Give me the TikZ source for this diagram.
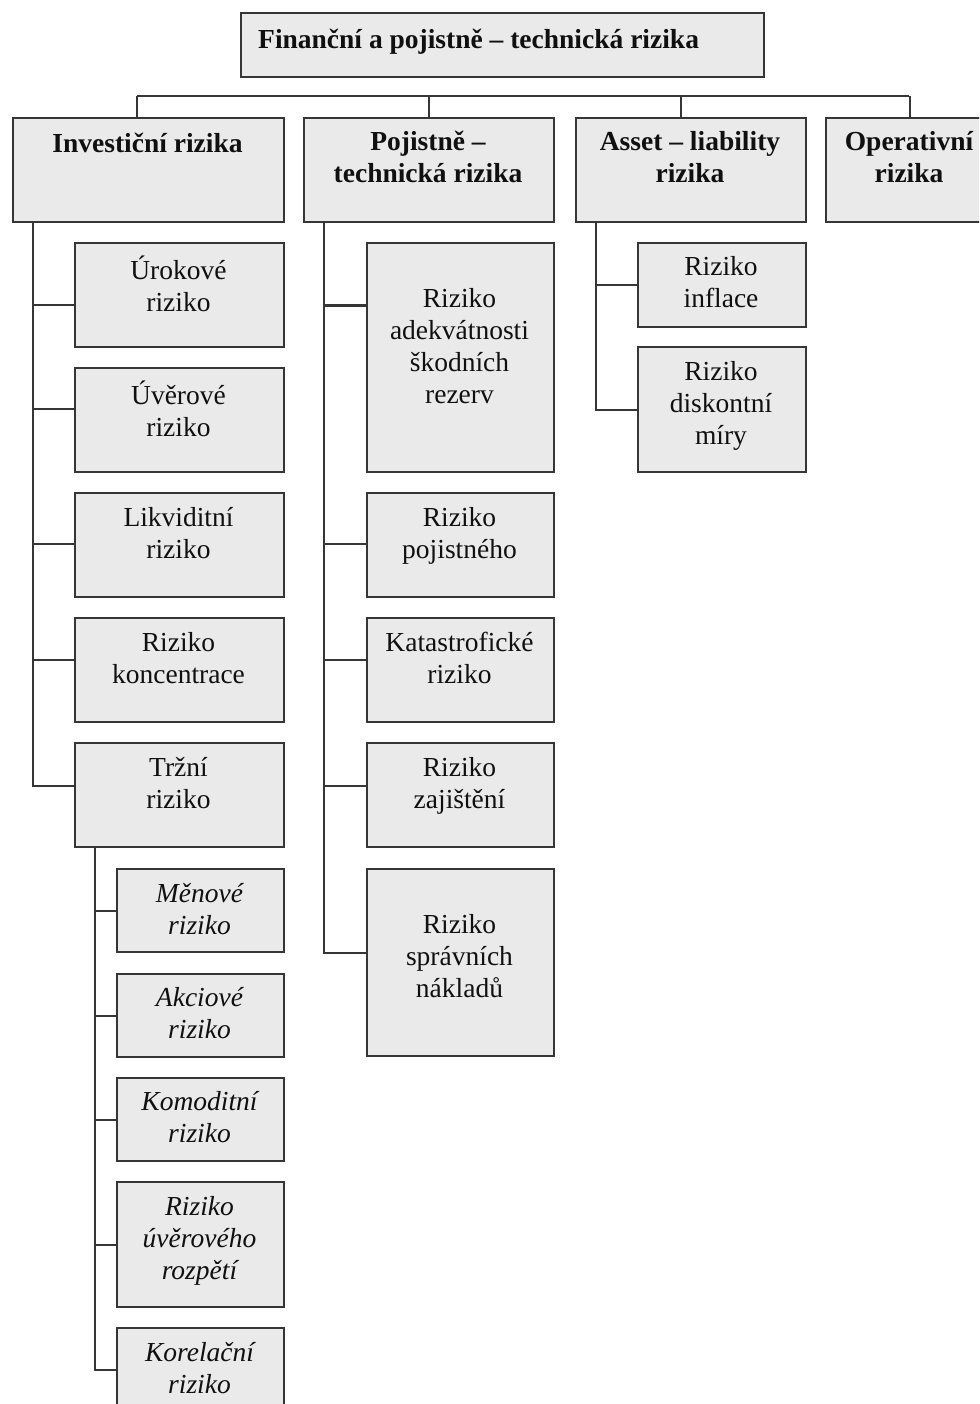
\documentclass[tikz,border=0pt]{standalone}
\usepackage{fontspec}
\setmainfont{Liberation Serif}
\definecolor{boxfill}{HTML}{EAEAEA}
\definecolor{boxline}{HTML}{363636}
\definecolor{ink}{HTML}{101010}
\tikzset{
  rbox/.style={draw=boxline, fill=boxfill, line width=2.2pt, inner sep=0pt, anchor=north west},
  link/.style={draw=boxline, line width=2.2pt},
  lbl/.style={text=ink, align=center, inner sep=0pt, yshift=-3pt,
    font=\fontsize{27.5}{32}\selectfont,
    execute at begin node=\strut, execute at end node=\strut},
  head/.style={lbl, font=\bfseries\fontsize{27.5}{32}\selectfont},
  sub/.style={lbl, font=\itshape\fontsize{27.5}{32}\selectfont}
}
\begin{document}
\begin{tikzpicture}[x=1pt,y=-1pt]
\useasboundingbox (0,0) rectangle (979,1404);
\clip (0,0) rectangle (979,1404);

% ---- boxes ----
\node[rbox, minimum width=523pt, minimum height=64pt]  (top) at (240,12) {};
\node[rbox, minimum width=271pt, minimum height=104pt] (inv) at (12,117) {};
\node[rbox, minimum width=250pt, minimum height=104pt] (poj) at (303,117) {};
\node[rbox, minimum width=230pt, minimum height=104pt] (alm) at (575,117) {};
\node[rbox, minimum width=168pt, minimum height=104pt] (ope) at (825,117) {};

\node[rbox, minimum width=209pt, minimum height=104pt] (u1) at (74,242) {};
\node[rbox, minimum width=209pt, minimum height=104pt] (u2) at (74,367) {};
\node[rbox, minimum width=209pt, minimum height=104pt] (u3) at (74,492) {};
\node[rbox, minimum width=209pt, minimum height=104pt] (u4) at (74,617) {};
\node[rbox, minimum width=209pt, minimum height=104pt] (u5) at (74,742) {};

\node[rbox, minimum width=167pt, minimum height=83pt]  (t1) at (116,868) {};
\node[rbox, minimum width=167pt, minimum height=83pt]  (t2) at (116,973) {};
\node[rbox, minimum width=167pt, minimum height=83pt]  (t3) at (116,1077) {};
\node[rbox, minimum width=167pt, minimum height=125pt] (t4) at (116,1181) {};
\node[rbox, minimum width=167pt, minimum height=83pt]  (t5) at (116,1327) {};

\node[rbox, minimum width=187pt, minimum height=229pt] (p1) at (366,242) {};
\node[rbox, minimum width=187pt, minimum height=104pt] (p2) at (366,492) {};
\node[rbox, minimum width=187pt, minimum height=104pt] (p3) at (366,617) {};
\node[rbox, minimum width=187pt, minimum height=104pt] (p4) at (366,742) {};
\node[rbox, minimum width=187pt, minimum height=187pt] (p5) at (366,868) {};

\node[rbox, minimum width=168pt, minimum height=84pt]  (a1) at (637,242) {};
\node[rbox, minimum width=168pt, minimum height=125pt] (a2) at (637,346) {};

% ---- bus between the first and second level ----
\coordinate (bus-w) at (137,96);
\coordinate (bus-e) at (909,96);
\draw[link] (bus-w) -- (bus-e);
\draw[link] (bus-w) -- (bus-w |- inv.north);
\draw[link] (poj.north) -- (poj.north |- bus-w);
\draw[link] ([xshift=-10pt]alm.north) -- ([xshift=-10pt]alm.north |- bus-w);
\draw[link] (ope.north) -- (ope.north |- bus-w);

% ---- trunks ----
\coordinate (inv-tr) at ([xshift=21pt]inv.south west);
\coordinate (poj-tr) at ([xshift=21pt]poj.south west);
\coordinate (alm-tr) at ([xshift=21pt]alm.south west);
\coordinate (trz-tr) at ([xshift=21pt]u5.south west);

\coordinate (u1c) at ([yshift=-10pt]u1.west);
\coordinate (u2c) at ([yshift=11pt]u2.west);
\coordinate (u3c) at ([yshift=1pt]u3.west);
\coordinate (u4c) at ([yshift=10pt]u4.west);
\coordinate (u5c) at ([yshift=9pt]u5.west);
\draw[link] (inv-tr) |- (u5c);
\foreach \c in {u1c,u2c,u3c,u4c} \draw[link] (\c) -- (\c -| inv-tr);

\coordinate (p1c) at ([yshift=52pt]p1.west);
\coordinate (p2c) at ([yshift=1pt]p2.west);
\coordinate (p3c) at ([yshift=10pt]p3.west);
\coordinate (p4c) at ([yshift=9pt]p4.west);
\coordinate (p5c) at ([yshift=10pt]p5.west);
\draw[link] (poj-tr) |- (p5c);
\foreach \c in {p1c,p2c,p3c,p4c} \draw[link] (\c) -- (\c -| poj-tr);

\draw[link] (alm-tr) |- (a2.west);
\draw[link] (a1.west) -- (a1.west -| alm-tr);

\draw[link] (trz-tr) |- (t5.west);
\foreach \c in {t1,t2,t3,t4} \draw[link] (\c.west) -- (\c.west -| trz-tr);

% ---- texts ----
\node[head, anchor=west, yshift=3pt] (top-t) at (258,42) {Finanční a pojistně – technická rizika};
\node[head] (inv-t) at (147.5,143) {Investiční rizika};
\node[head] (poj-t) at (428,159) {Pojistně –\\technická rizika};
\node[head] (alm-t) at (690,159) {Asset – liability\\rizika};
\node[head] (ope-t) at (909,159) {Operativní\\rizika};

\node[lbl] (u1-t) at (178.5,285) {Úrokové\\riziko};
\node[lbl] (u2-t) at (178.5,410) {Úvěrové\\riziko};
\node[lbl] (u3-t) at (178.5,535) {Likviditní\\riziko};
\node[lbl] (u4-t) at (178.5,660) {Riziko\\koncentrace};
\node[lbl] (u5-t) at (178.5,785) {Tržní\\riziko};

\node[lbl] (p1-t) at (459.5,348) {Riziko\\adekvátnosti\\škodních\\rezerv};
\node[lbl] (p2-t) at (459.5,535) {Riziko\\pojistného};
\node[lbl] (p3-t) at (459.5,660) {Katastrofické\\riziko};
\node[lbl] (p4-t) at (459.5,785) {Riziko\\zajištění};
\node[lbl] (p5-t) at (459.5,958) {Riziko\\správních\\nákladů};

\node[lbl] (a1-t) at (721,284) {Riziko\\inflace};
\node[lbl] (a2-t) at (721,405) {Riziko\\diskontní\\míry};

\node[sub] (t1-t) at (199.5,911) {Měnové\\riziko};
\node[sub] (t2-t) at (199.5,1015) {Akciové\\riziko};
\node[sub] (t3-t) at (199.5,1119) {Komoditní\\riziko};
\node[sub] (t4-t) at (199.5,1240) {Riziko\\úvěrového\\rozpětí};
\node[sub] (t5-t) at (199.5,1370) {Korelační\\riziko};
\end{tikzpicture}
\end{document}
